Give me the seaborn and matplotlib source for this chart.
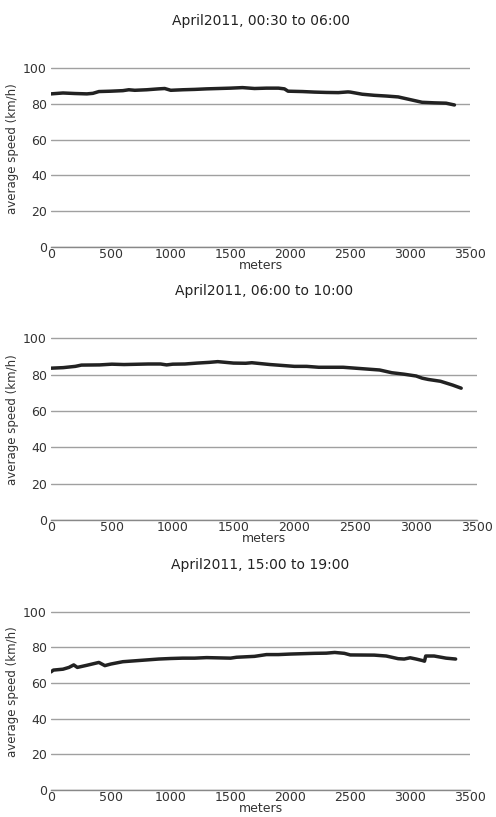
import numpy as np
import pandas as pd
import seaborn as sns
import matplotlib
matplotlib.use("Agg")
import matplotlib.pyplot as plt

# data (meters, km/h)
titles = ["April2011, 00:30 to 06:00", "April2011, 06:00 to 10:00", "April2011, 15:00 to 19:00"]

m1 = [0, 100, 200, 300, 350, 400, 500, 600, 650, 700, 800, 900, 950, 1000, 1100, 1200,
      1300, 1400, 1500, 1600, 1700, 1800, 1900, 1950, 1980, 2100, 2200, 2300, 2400, 2480,
      2500, 2600, 2700, 2800, 2900, 3000, 3100, 3200, 3300, 3370]
s1 = [85.5, 86.0, 85.7, 85.5, 85.8, 86.8, 87.0, 87.3, 87.8, 87.5, 87.8, 88.3, 88.5, 87.5,
      87.8, 88.0, 88.3, 88.5, 88.7, 89.0, 88.5, 88.7, 88.7, 88.3, 87.0, 86.8, 86.5, 86.3,
      86.2, 86.6, 86.5, 85.3, 84.7, 84.3, 83.8, 82.3, 80.8, 80.5, 80.3, 79.3]

m2 = [0, 100, 200, 250, 400, 500, 600, 800, 900, 950, 1000, 1100, 1200, 1300, 1370, 1500,
      1600, 1650, 1800, 1900, 2000, 2100, 2200, 2400, 2500, 2600, 2700, 2800, 2900, 3000,
      3050, 3100, 3200, 3300, 3370]
s2 = [83.5, 83.8, 84.5, 85.2, 85.3, 85.7, 85.5, 85.8, 85.8, 85.3, 85.7, 85.8, 86.3, 86.7,
      87.1, 86.3, 86.2, 86.5, 85.5, 85.0, 84.5, 84.5, 84.0, 84.0, 83.5, 83.0, 82.5, 81.0,
      80.2, 79.2, 78.0, 77.3, 76.3, 74.2, 72.5]

m3 = [0, 20, 100, 150, 190, 220, 300, 400, 450, 500, 600, 700, 800, 900, 1000, 1100, 1200,
      1300, 1500, 1550, 1700, 1800, 1900, 2000, 2100, 2200, 2300, 2370, 2450, 2500, 2700,
      2800, 2900, 2950, 3000, 3050, 3100, 3120, 3130, 3200, 3300, 3380]
s3 = [66.3, 67.3, 67.8, 68.8, 70.2, 68.8, 70.0, 71.6, 69.8, 70.7, 72.0, 72.5, 73.0, 73.5,
      73.8, 74.0, 74.0, 74.3, 74.0, 74.5, 75.0, 76.0, 76.0, 76.3, 76.5, 76.7, 76.8, 77.2,
      76.7, 75.8, 75.7, 75.2, 73.7, 73.5, 74.2, 73.5, 72.7, 72.3, 75.2, 75.2, 74.0, 73.5]

meters = [m1, m2, m3]
speeds = [s1, s2, s3]

sns.set_style("white")
plt.rcParams["font.family"] = ["DejaVu Sans"]

fig = plt.figure(figsize=(4.96, 8.17), dpi=100)
W, H = 496, 817
# left, right, top(110), bottom(0) in pixels
boxes = [(51, 470, 50, 247), (51, 477, 320, 520), (51, 470, 594, 790)]

for i, (l, r, t, b) in enumerate(boxes):
    ax = fig.add_axes([l / W, 1 - b / H, (r - l) / W, (b - t) / H])
    df = pd.DataFrame({"meters": meters[i], "speed": speeds[i]})
    sns.lineplot(data=df, x="meters", y="speed", ax=ax, color="#222222", linewidth=2.5)
    ax.set_xlim(0, 3500)
    ax.set_ylim(0, 110)
    ax.set_xticks(range(0, 3501, 500))
    ax.set_yticks(range(0, 101, 20))
    ax.yaxis.grid(True, color="#a0a0a0", linewidth=1)
    ax.set_axisbelow(True)
    for s in ["top", "right", "left"]:
        ax.spines[s].set_visible(False)
    ax.spines["bottom"].set_color("#888888")
    ax.spines["bottom"].set_linewidth(1)
    ax.tick_params(axis="x", direction="in", length=4, color="#888888", labelsize=9,
                   pad=1, labelcolor="#333333")
    ax.tick_params(axis="y", length=0, labelsize=9, pad=3, labelcolor="#333333")
    ax.set_xlabel("meters", fontsize=9, color="#333333", labelpad=-2)
    ax.set_ylabel("average speed (km/h)", fontsize=8.5, color="#333333", labelpad=3)
    ax.set_title(titles[i], fontsize=10, color="#222222", pad=18)

fig.savefig("out.png", dpi=100)
